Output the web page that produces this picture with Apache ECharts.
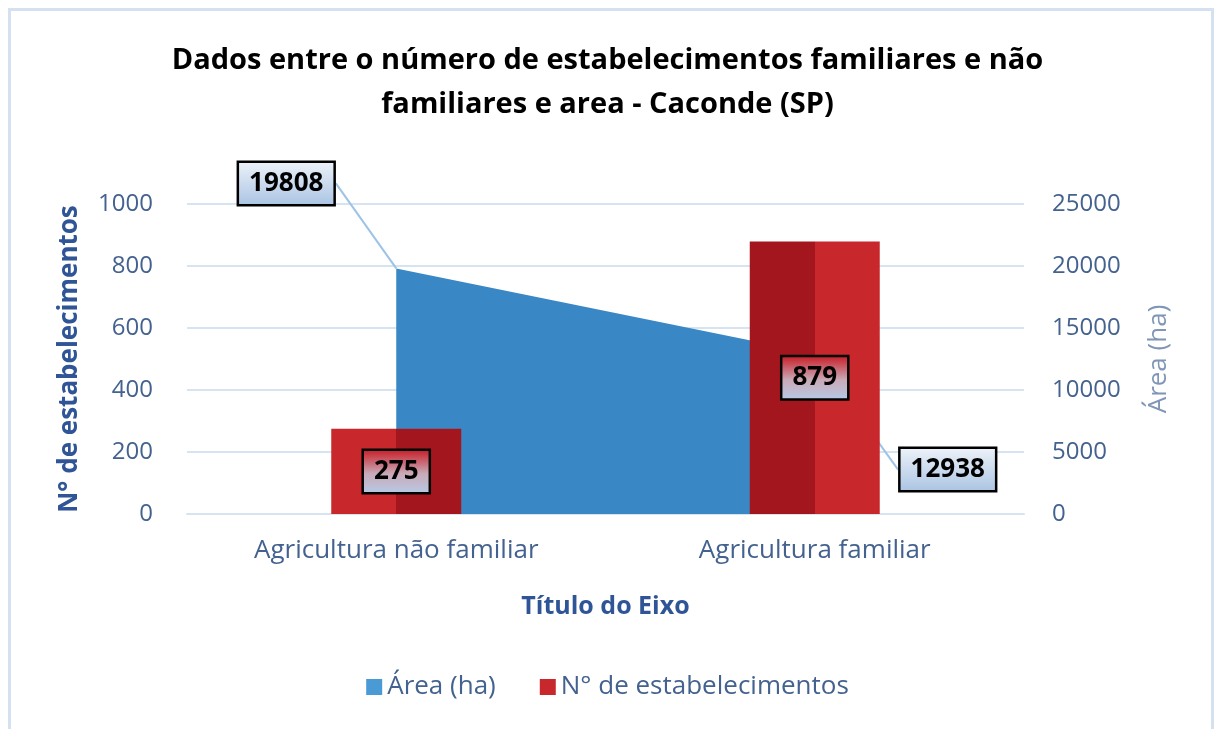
<!DOCTYPE html>
<html>
<head>
<meta charset="utf-8">
<script src="https://cdn.jsdelivr.net/npm/echarts@6/dist/echarts.min.js"></script>
<style>
  html, body { margin: 0; padding: 0; background: #fff; }
  #chart { width: 1215px; height: 729px; }
  #frame { position: absolute; left: 8px; top: 8px; width: 1200px; height: 740px; border: 3px solid #d3e1f0; pointer-events: none; }
</style>
</head>
<body>
<div id="chart"></div>
<div id="frame"></div>
<script>
var categories = ['Agricultura não familiar', 'Agricultura familiar'];
var areaHa = [19808, 12938];
var estabelecimentos = [275, 879];

var axisColor = '#44628f';
var gridColor = '#d6e4f2';
var labelBoxBlue = new echarts.graphic.LinearGradient(0, 0, 0, 1, [
    { offset: 0, color: '#eef3fa' },
    { offset: 1, color: '#a9c3e2' }
]);
var labelBoxRed = new echarts.graphic.LinearGradient(0, 0, 0, 1, [
    { offset: 0, color: '#c8161f' },
    { offset: 0.55, color: '#c9aab8' },
    { offset: 1, color: '#b6cbe8' }
]);
var barLeft = new echarts.graphic.LinearGradient(0, 0, 1, 0, [
    { offset: 0, color: '#c8282c' },
    { offset: 0.5, color: '#c8282c' },
    { offset: 0.5, color: '#a4161e' },
    { offset: 1, color: '#a4161e' }
]);
var barRight = new echarts.graphic.LinearGradient(0, 0, 1, 0, [
    { offset: 0, color: '#a4161e' },
    { offset: 0.5, color: '#a4161e' },
    { offset: 0.5, color: '#c8282c' },
    { offset: 1, color: '#c8282c' }
]);
var plain = function (v) { return String(v); };

var dom = document.getElementById('chart');
var myChart = echarts.init(dom);
var option = {
    backgroundColor: '#fff',
    animation: false,
    title: {
        text: 'Dados entre o número de estabelecimentos familiares e não\nfamiliares e area - Caconde (SP)',
        left: 'center',
        top: 34,
        textStyle: {
            fontFamily: 'Open Sans',
            fontWeight: 'bold',
            fontSize: 29,
            lineHeight: 44,
            color: '#000'
        }
    },
    legend: {
        bottom: 24,
        left: 'center',
        itemWidth: 16,
        itemHeight: 16,
        itemGap: 44,
        icon: 'rect',
        textStyle: { fontFamily: 'Open Sans', fontSize: 26, color: axisColor },
        data: ['Área (ha)', 'N° de estabelecimentos']
    },
    grid: { left: 187, right: 191, top: 204, bottom: 215 },
    xAxis: {
        type: 'category',
        data: categories,
        boundaryGap: true,
        axisTick: { show: false },
        axisLine: { lineStyle: { color: gridColor, width: 2 } },
        axisLabel: { fontFamily: 'Open Sans', fontSize: 26, color: axisColor, margin: 24 },
        name: 'Título do Eixo',
        nameLocation: 'middle',
        nameGap: 80,
        nameTextStyle: { fontFamily: 'Open Sans', fontSize: 25, fontWeight: 'bold', color: '#2f5597' }
    },
    yAxis: [{
        type: 'value',
        min: 0,
        max: 1000,
        interval: 200,
        axisLine: { show: false },
        axisTick: { show: false },
        splitLine: { lineStyle: { color: gridColor, width: 2 } },
        axisLabel: { fontFamily: 'Open Sans', fontSize: 24, color: axisColor, margin: 34, formatter: plain },
        name: 'N° de estabelecimentos',
        nameLocation: 'middle',
        nameGap: 104,
        nameTextStyle: { fontFamily: 'Open Sans', fontSize: 26, fontWeight: 'bold', color: '#2f5597' }
    }, {
        type: 'value',
        min: 0,
        max: 25000,
        interval: 5000,
        axisLine: { show: false },
        axisTick: { show: false },
        splitLine: { show: false },
        axisLabel: { fontFamily: 'Open Sans', fontSize: 24, color: axisColor, margin: 28, formatter: plain },
        name: 'Área (ha)',
        nameLocation: 'middle',
        nameGap: 122,
        nameTextStyle: { fontFamily: 'Open Sans', fontSize: 26, color: '#7f96b6' }
    }],
    series: [{
        name: 'Área (ha)',
        type: 'line',
        yAxisIndex: 1,
        data: areaHa,
        symbol: 'circle',
        symbolSize: 0.1,
        showSymbol: true,
        itemStyle: { color: '#4a9ad5' },
        lineStyle: { width: 0 },
        areaStyle: { color: '#3a87c5', opacity: 1 },
        label: {
            show: true,
            position: 'inside',
            fontFamily: 'Open Sans',
            fontWeight: 'bold',
            fontSize: 26,
            color: '#000',
            backgroundColor: labelBoxBlue,
            borderColor: '#000',
            borderWidth: 2.5,
            padding: [9, 10, 6, 10]
        },
        labelLine: { show: true, lineStyle: { color: '#9dc3e6', width: 2 } },
        labelLayout: function (params) {
            if (params.dataIndex === 0) return { dx: -110, dy: -85 };
            return { dx: 133, dy: 116 };
        },
        z: 1
    }, {
        name: 'N° de estabelecimentos',
        type: 'bar',
        yAxisIndex: 0,
        barWidth: 130,
        itemStyle: { color: '#c8282c' },
        data: [
            { value: estabelecimentos[0], itemStyle: { color: barLeft } },
            { value: estabelecimentos[1], itemStyle: { color: barRight } }
        ],
        label: {
            show: true,
            position: 'inside',
            fontFamily: 'Open Sans',
            fontWeight: 'bold',
            fontSize: 26,
            color: '#000',
            backgroundColor: labelBoxRed,
            borderColor: '#000',
            borderWidth: 2.5,
            padding: [9, 10, 6, 10]
        },
        z: 3
    }]
};
myChart.setOption(option, true);
</script>
</body>
</html>
